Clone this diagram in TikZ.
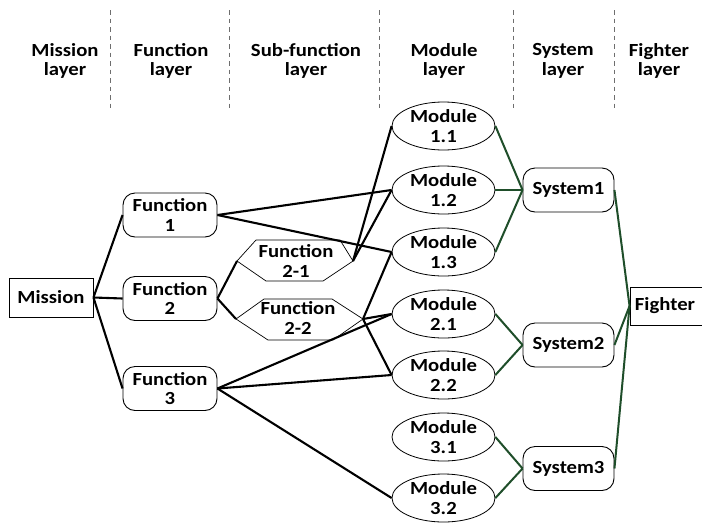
\documentclass[tikz,border=0pt]{standalone}
\usepackage{fontspec}
\setmainfont{Carlito}[FakeStretch=1.12]
\usetikzlibrary{shapes.geometric}
\definecolor{linkgreen}{RGB}{31,78,42}
\definecolor{guide}{RGB}{110,110,110}
\begin{document}
\begin{tikzpicture}[x=1pt,y=-1pt,
  every node/.style={font=\fontsize{18.5}{19.5}\selectfont\bfseries, align=center, inner sep=0pt},
  header/.style={},
  squarebox/.style={draw, line width=0.9pt, rectangle},
  fnbox/.style={draw, line width=0.9pt, rectangle, rounded corners=12pt, minimum width=94pt, minimum height=44pt},
  sysbox/.style={draw, line width=0.9pt, rectangle, rounded corners=12pt, minimum width=91pt, minimum height=44pt},
  modbox/.style={draw, line width=0.8pt, ellipse, minimum width=103pt, minimum height=48pt},
  hexline/.style={draw, line width=0.7pt},
  link/.style={line width=2.1pt, black},
  glink/.style={line width=2pt, linkgreen},
  guideline/.style={guide, line width=1pt, dash pattern=on 4.5pt off 4pt}]

\fill[white] (0,0) rectangle (702,523);
\useasboundingbox (0,0) rectangle (702,523);

% layer headers
\node[header] (hmis) at (65,61) {Mission\\layer};
\node[header] (hfun) at (171,61) {Function\\layer};
\node[header] (hsub) at (306,61) {Sub-function\\layer};
\node[header] (hmod) at (444,61) {Module\\layer};
\node[header] (hsys) at (563,61) {System\\layer};
\node[header] (hfig) at (659,61) {Fighter\\layer};

% dashed separators between layers
\foreach \x/\n in {110/a,229/b,379/c,513/d,614/e}{
  \coordinate (g\n t) at (\x,10);
  \coordinate (g\n b) at (\x,110);
  \draw[guideline] (g\n t) -- (g\n b);
}

% mission and functions
\node[squarebox, minimum width=84pt, minimum height=39pt] (mis) at (51,297.5) {Mission};
\node[fnbox] (f1) at (170,215) {Function\\1};
\node[fnbox] (f2) at (170,298.5) {Function\\2};
\node[fnbox] (f3) at (170,388.5) {Function\\3};

% sub-functions (hexagons)
\node (f21) at (296,261) {Function\\2-1};
\node (f22) at (298,318) {Function\\2-2};
\coordinate (f21w) at (237,261);
\coordinate (f21e) at (353,261);
\coordinate (f22w) at (236,319);
\coordinate (f22e) at (363,319);
\draw[hexline] (f21w) -- (256,240) -- (340,240) -- (f21e) -- (323,281) -- (266,281) -- cycle;
\draw[hexline] (f22w) -- (264,299) -- (332,299) -- (f22e) -- (333,340) -- (268,340) -- cycle;

% modules
\node[modbox] (m11) at (443.5,126) {Module\\1.1};
\node[modbox] (m12) at (443.5,190) {Module\\1.2};
\node[modbox] (m13) at (443.5,252) {Module\\1.3};
\node[modbox] (m21) at (443.5,314) {Module\\2.1};
\node[modbox] (m22) at (443.5,375) {Module\\2.2};
\node[modbox] (m31) at (443.5,437) {Module\\3.1};
\node[modbox] (m32) at (443.5,498) {Module\\3.2};

% systems and fighter
\node[sysbox] (s1) at (568.5,190) {System1};
\node[sysbox] (s2) at (568.5,345) {System2};
\node[sysbox] (s3) at (568.5,468.5) {System3};
\node[squarebox, minimum width=76pt, minimum height=38pt] (fig) at (668,306) {\hspace*{-6pt}Fighter};

% mission -> functions
\draw[link] (mis.east) -- (f1.west);
\draw[link] (mis.east) -- (f2.west);
\draw[link] (mis.east) -- (f3.west);

% function 2 -> sub-functions
\draw[link] (f2.east) -- (f21w);
\draw[link] (f2.east) -- (f22w);

% functions -> modules
\draw[link] (f1.east) -- (m12.west);
\draw[link] (f1.east) -- (m13.west);
\draw[link] (f21e) -- (m11.west);
\draw[link] (f21e) -- (m12.west);
\draw[link] (f22e) -- (m13.west);
\draw[link] (f22e) -- (m21.west);
\draw[link] (f22e) -- (m22.west);
\draw[link] (f3.east) -- (m21.west);
\draw[link] (f3.east) -- (m22.west);
\draw[link] (f3.east) -- (m32.west);

% modules -> systems
\draw[glink] (m11.east) -- (s1.west);
\draw[glink] (m12.east) -- (s1.west);
\draw[glink] (m13.east) -- (s1.west);
\draw[glink] (m21.east) -- (s2.west);
\draw[glink] (m22.east) -- (s2.west);
\draw[glink] (m31.east) -- (s3.west);
\draw[glink] (m32.east) -- (s3.west);

% systems -> fighter
\draw[glink] (s1.east) -- (fig.west);
\draw[glink] (s2.east) -- (fig.west);
\draw[glink] (s3.east) -- (fig.west);
\end{tikzpicture}
\end{document}
